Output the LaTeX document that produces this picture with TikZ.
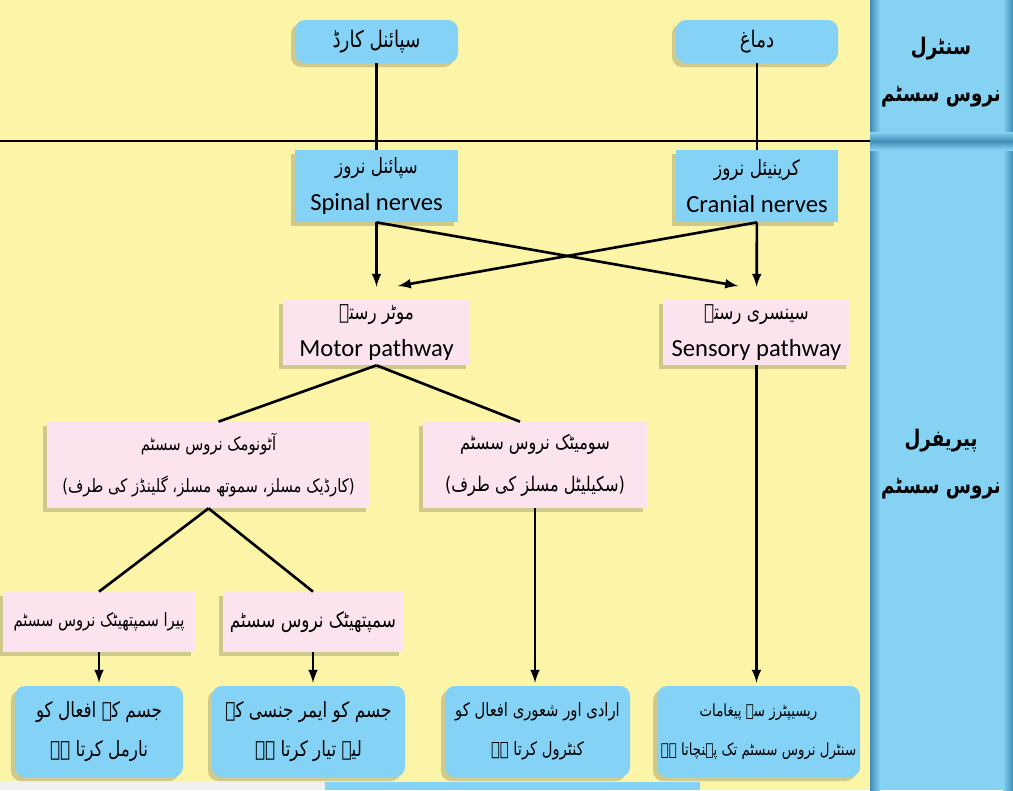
\documentclass[tikz,border=0pt]{standalone}
\usepackage{fontspec}
\setmainfont{Carlito}
\newfontfamily\urfont[Script=Arabic, FakeStretch=0.8]{DejaVu Sans}
\TeXXeTstate=1
\newcommand{\urt}[1]{{\urfont\beginR #1\endR}}
\usepackage{tikz}
\usetikzlibrary{calc}
\usetikzlibrary{arrows}
\usetikzlibrary{arrows.meta}
\usetikzlibrary{shadows}
\tikzset{>=latex}
\definecolor{bgyellow}{HTML}{FCF4A6}
\definecolor{boxblue}{HTML}{84D3F7}
\definecolor{boxpink}{HTML}{FCE4EF}
\definecolor{colblue}{HTML}{86D2F3}
\definecolor{coldark}{HTML}{3F8DB5}
\tikzset{
  shd/.style = {drop shadow = {shadow xshift = -0.8mm, shadow yshift = -0.8mm, opacity = .22, fill = black!80}},
  bluebox/.style = {rectangle, fill = boxblue, rounded corners = 2mm, shd, align = center, inner sep = 0pt, font = \fontsize{12}{24}\selectfont},
  bluesq/.style = {rectangle, fill = boxblue, shd, align = center, inner sep = 0pt, font = \fontsize{14}{21}\selectfont},
  pinkbox/.style = {rectangle, fill = boxpink, shd, align = center, inner sep = 0pt, font = \fontsize{14}{21}\selectfont},
  collabel/.style = {font = \fontsize{13}{27}\selectfont\bfseries, align = center},
  ln/.style = {-, draw = black, line width = 1.5pt},
  arr/.style = {-latex, draw = black, line width = 1.5pt},
}

\begin{document}
\begin{tikzpicture}[x = 0.2mm, y = -0.2mm]
\useasboundingbox (0, 0) rectangle (1013, 790);
% background and side column
\fill [bgyellow] (0, 0) rectangle (870, 790);
\fill [colblue] (870, 0) rectangle (1013, 790);
\shade [left color = coldark, right color = colblue] (870, 0) rectangle (880, 790);
\shade [left color = colblue, right color = coldark] (1003, 0) rectangle (1013, 790);
\shade [top color = colblue, bottom color = coldark] (870, 132) rectangle (1013, 141);
\shade [top color = coldark, bottom color = colblue] (870, 141) rectangle (1013, 150);
\draw [line width = 1pt] (0, 141) -- (870, 141);
\fill [black!6] (0, 782) rectangle (325, 790);
\fill [boxblue] (325, 782) rectangle (700, 790);

\node [collabel] (cns) at (941, 72) {\urt{سنٹرل}\\\urt{نروس سسٹم}};
\node [collabel] (pns) at (941, 464) {\urt{پیریفرل}\\\urt{نروس سسٹم}};

% central
\node [bluebox, minimum width = 32.6mm, minimum height = 8.6mm, font = \fontsize{13}{24}\selectfont] (cord) at (376.5, 41.5) {\urt{سپائنل کارڈ}};
\node [bluebox, minimum width = 32.4mm, minimum height = 8.6mm, font = \fontsize{13}{24}\selectfont] (brain) at (757, 41.5) {\urt{دماغ}};

% nerves
\node [bluesq, minimum width = 32.6mm, minimum height = 14.4mm] (spn) at (376.5, 186) {\urt{\fontsize{12}{21}\selectfont سپائنل نروز}\\Spinal nerves};
\node [bluesq, minimum width = 32.4mm, minimum height = 14.4mm] (crn) at (757, 186) {\urt{\fontsize{12}{21}\selectfont کرینیئل نروز}\\Cranial nerves};

% pathways
\node [pinkbox, minimum width = 37.4mm, minimum height = 13mm] (motor) at (376.5, 332.5) {\urt{\fontsize{12}{21}\selectfont موٹر رستہ}\\Motor pathway};
\node [pinkbox, minimum width = 37.4mm, minimum height = 13mm] (sens) at (756.5, 332.5) {\urt{\fontsize{12}{21}\selectfont سینسری رستہ}\\Sensory pathway};

\node [pinkbox, minimum width = 64.6mm, minimum height = 17.2mm, font = \fontsize{10.5}{24}\selectfont] (auto) at (208.5, 465) {\urt{آٹونومک نروس سسٹم}\\\urt{(کارڈیک مسلز، سموتھ مسلز، گلینڈز کی طرف)}};
\node [pinkbox, minimum width = 44.8mm, minimum height = 17.2mm, font = \fontsize{11.5}{24}\selectfont] (soma) at (535, 465) {\urt{سومیٹک نروس سسٹم}\\\urt{(سکیلیٹل مسلز کی طرف)}};

\node [pinkbox, minimum width = 38.4mm, minimum height = 12mm, font = \fontsize{10.5}{24}\selectfont] (para) at (99, 622) {\urt{پیرا سمپتھیٹک نروس سسٹم}};
\node [pinkbox, minimum width = 36mm, minimum height = 12mm, font = \fontsize{12}{24}\selectfont] (symp) at (313, 622) {\urt{سمپتھیٹک نروس سسٹم}};

% results
\node [bluebox, minimum width = 33.6mm, minimum height = 18.2mm, font = \fontsize{12}{22}\selectfont] (norm) at (99, 731.5) {\urt{جسم کے افعال کو}\\\urt{نارمل کرتا ہے}};
\node [bluebox, minimum width = 38.6mm, minimum height = 18.2mm, font = \fontsize{12}{22}\selectfont] (emrg) at (308.5, 731.5) {\urt{جسم کو ایمر جنسی کے}\\\urt{لیے تیار کرتا ہے}};
\node [bluebox, minimum width = 37mm, minimum height = 18.2mm, font = \fontsize{10.5}{22}\selectfont] (volt) at (537.5, 731.5) {\urt{ارادی اور شعوری افعال کو}\\\urt{کنٹرول کرتا ہے}};
\node [bluebox, minimum width = 40.6mm, minimum height = 18.2mm, font = \fontsize{9.5}{22}\selectfont] (msg) at (758.5, 731.5) {\urt{ریسیپٹرز سے پیغامات}\\\urt{سنٹرل نروس سسٹم تک پہنچاتا ہے}};

\coordinate (sensin) at (738, 286);
\coordinate (motin) at (398, 286);

\draw [ln] (cord) to (spn);
\draw [ln] (brain) to (crn);
\draw [arr, shorten >= 2.6mm] (spn) to (motor);
\draw [arr, shorten >= 2.6mm] (crn) to (sens);
\draw [arr] (spn.south) to (sensin);
\draw [arr] (crn.south) to (motin);
\draw [ln] (motor.south) to ([xshift = 2mm]auto.north);
\draw [ln] (motor.south) to ([xshift = -3mm]soma.north);
\draw [ln] (auto.south) to (para.north);
\draw [ln] (auto.south) to (symp.north);
\draw [arr, shorten >= 0.6mm] (para) to (norm);
\draw [arr, shorten >= 0.6mm] (symp.south) to (symp.south |- emrg.north);
\draw [arr, shorten >= 0.6mm] (soma.south) to (soma.south |- volt.north);
\draw [arr, shorten >= 0.6mm] (sens.south) to (sens.south |- msg.north);
\end{tikzpicture}
\end{document}
